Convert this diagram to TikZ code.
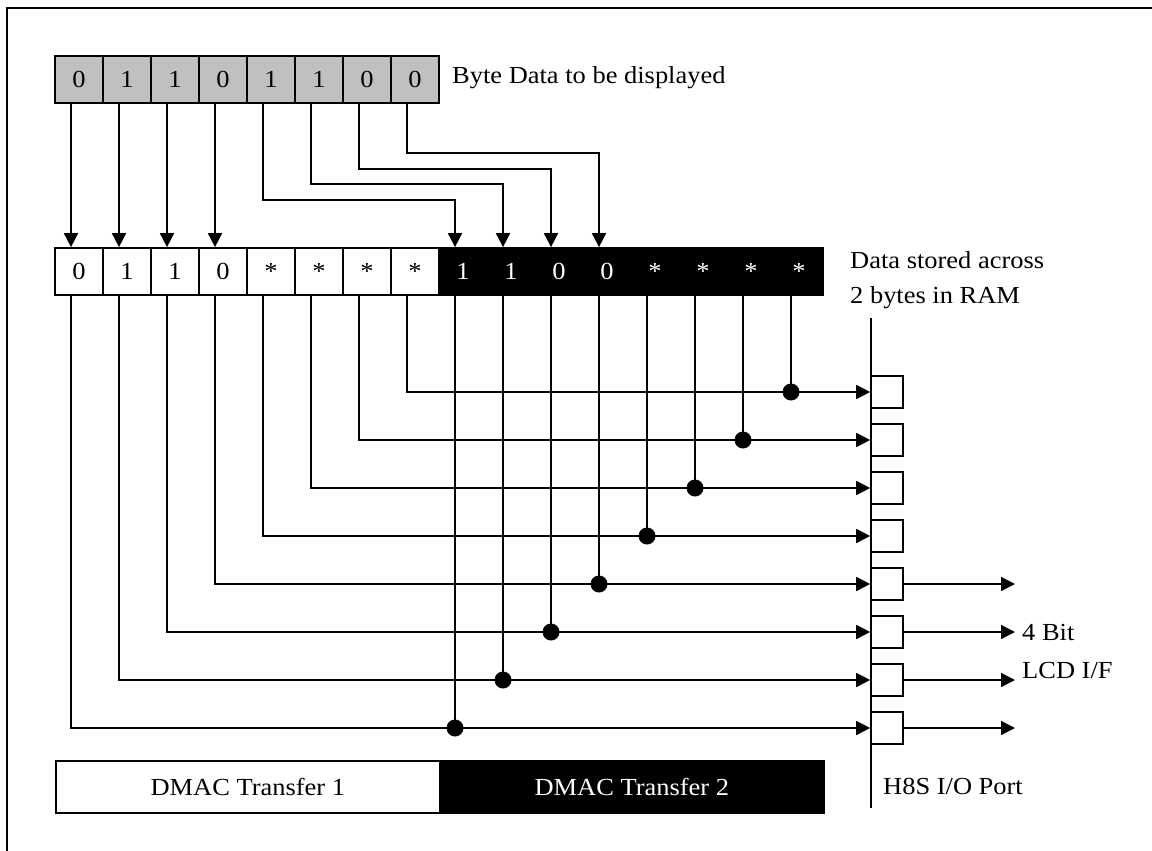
\documentclass[tikz,border=0pt]{standalone}
\usepackage{fontspec}
\setmainfont{Liberation Serif}[FakeStretch=1.08]
\usetikzlibrary{arrows.meta}
\definecolor{cellgray}{HTML}{C0C0C0}
\begin{document}
\begin{tikzpicture}[x=1pt,y=-1pt,
  txt/.style={font=\fontsize{24.5}{35}\selectfont},
  cellbase/.style={draw, minimum width=48pt, minimum height=47pt, inner sep=0pt, line width=1.7pt, txt},
  cellg/.style={cellbase, fill=cellgray},
  cellw/.style={cellbase, fill=white},
  cellb/.style={cellbase, fill=black, text=white},
  wire/.style={line width=1.7pt},
  arr/.style={wire, -{Triangle[length=14pt,width=14pt]}},
  dotnode/.style={circle, fill=black, inner sep=0pt, minimum size=17pt},
  portbox/.style={draw, fill=white, line width=1.7pt, minimum width=32pt, minimum height=32pt, inner sep=0pt},
  dmac/.style={draw, line width=1.7pt, minimum width=384pt, minimum height=52pt, inner sep=0pt, anchor=north west, txt}]
\useasboundingbox (0,0) rectangle (1152,851);
% frame
\coordinate (fa) at (1152,8);
\coordinate (fb) at (7,8);
\coordinate (fc) at (7,851);
\draw[line width=2pt] (fa) -- (fb) -- (fc);
% top byte
\foreach \b [count=\i from 0] in {0,1,1,0,1,1,0,0}
  \node[cellg] (t\i) at (79+48*\i,79.5) {\b};
\node[txt, anchor=west, inner sep=0pt] (lab1) at (452,78) {Byte Data to be displayed};
% RAM row
\foreach \b [count=\i from 0] in {0,1,1,0,*,*,*,*}
  \node[cellw] (r\i) at (79+48*\i,271.5) {\b};
\foreach \b [count=\i from 8] in {1,1,0,0,*,*,*,*}
  \node[cellb] (r\i) at (79+48*\i,271.5) {\b};
\node[txt, anchor=west, align=left, inner sep=0pt] (lab2) at (850,280) {Data stored across\\2 bytes in RAM};
% offset coordinates
\foreach \i in {0,...,7} \coordinate (ts\i) at ([xshift=-8pt]t\i.south);
\foreach \i in {0,...,15} {
  \coordinate (rn\i) at ([xshift=-8pt]r\i.north);
  \coordinate (rs\i) at ([xshift=-8pt]r\i.south);
}
% top arrows
\foreach \i in {0,...,3} \draw[arr] (ts\i) -- (rn\i);
\draw[arr] (ts4) -- ++(0,96) -| (rn8);
\draw[arr] (ts5) -- ++(0,80) -| (rn9);
\draw[arr] (ts6) -- ++(0,65) -| (rn10);
\draw[arr] (ts7) -- ++(0,49) -| (rn11);
% port
\coordinate (pt) at (871,318);
\coordinate (pb) at (871,808);
\draw[wire] (pt) -- (pb);
\foreach \k in {1,...,8}
  \node[portbox] (p\k) at (887,344+48*\k) {};
% wires to port
\foreach \i in {0,...,7} {
  \pgfmathtruncatemacro\k{8-\i}
  \draw[arr] (rs\i) |- (p\k.west);
}
\foreach \i in {8,...,15} {
  \pgfmathtruncatemacro\k{16-\i}
  \draw[wire] (rs\i) -- (rs\i |- p\k.west) node[dotnode] (d\i) {};
}
% outputs
\foreach \k in {5,...,8} {
  \coordinate (o\k) at (1015,344+48*\k);
  \draw[arr] (p\k.east) -- (o\k);
}
\node[txt, anchor=west, align=left, inner sep=0pt, font=\fontsize{24.5}{38}\selectfont] (lab3) at (1022,652) {4 Bit\\LCD I/F};
\node[txt, anchor=west, inner sep=0pt] (lab4) at (883,786) {H8S I/O Port};
% DMAC
\node[dmac, fill=white] (dm1) at (55,760) {DMAC Transfer 1};
\node[dmac, fill=black, text=white] (dm2) at (439,760) {DMAC Transfer 2};
\end{tikzpicture}
\end{document}
